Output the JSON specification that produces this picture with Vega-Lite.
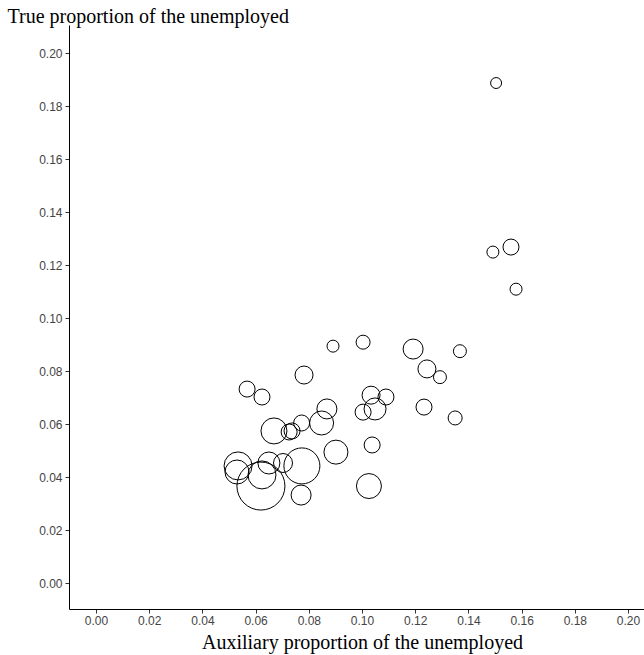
{
  "$schema": "https://vega.github.io/schema/vega-lite/v6.json",
  "autosize": "none",
  "width": 575,
  "height": 584,
  "padding": {"left": 69, "top": 25, "right": 0, "bottom": 46},
  "background": "white",
  "config": {"view": {"stroke": null}},
  "data": {"values": [
    {"aux": 0.1504, "truep": 0.1887, "w": 30},
    {"aux": 0.1492, "truep": 0.1249, "w": 36},
    {"aux": 0.1560, "truep": 0.1268, "w": 64},
    {"aux": 0.1579, "truep": 0.1109, "w": 36},
    {"aux": 0.0891, "truep": 0.0894, "w": 36},
    {"aux": 0.1004, "truep": 0.0909, "w": 49},
    {"aux": 0.1192, "truep": 0.0883, "w": 100},
    {"aux": 0.1368, "truep": 0.0875, "w": 42},
    {"aux": 0.1244, "truep": 0.0808, "w": 81},
    {"aux": 0.1293, "truep": 0.0777, "w": 42},
    {"aux": 0.0568, "truep": 0.0732, "w": 64},
    {"aux": 0.0624, "truep": 0.0702, "w": 64},
    {"aux": 0.0782, "truep": 0.0785, "w": 81},
    {"aux": 0.1034, "truep": 0.0709, "w": 81},
    {"aux": 0.1090, "truep": 0.0702, "w": 64},
    {"aux": 0.0868, "truep": 0.0657, "w": 100},
    {"aux": 0.1004, "truep": 0.0645, "w": 64},
    {"aux": 0.1049, "truep": 0.0657, "w": 121},
    {"aux": 0.1233, "truep": 0.0664, "w": 64},
    {"aux": 0.1350, "truep": 0.0623, "w": 49},
    {"aux": 0.0669, "truep": 0.0574, "w": 169},
    {"aux": 0.0726, "truep": 0.0570, "w": 64},
    {"aux": 0.0737, "truep": 0.0574, "w": 64},
    {"aux": 0.0773, "truep": 0.0604, "w": 64},
    {"aux": 0.0848, "truep": 0.0604, "w": 144},
    {"aux": 0.1038, "truep": 0.0521, "w": 64},
    {"aux": 0.0902, "truep": 0.0494, "w": 144},
    {"aux": 0.0534, "truep": 0.0442, "w": 196},
    {"aux": 0.0530, "truep": 0.0419, "w": 144},
    {"aux": 0.0650, "truep": 0.0453, "w": 121},
    {"aux": 0.0624, "truep": 0.0408, "w": 196},
    {"aux": 0.0703, "truep": 0.0453, "w": 90},
    {"aux": 0.0774, "truep": 0.0442, "w": 324},
    {"aux": 0.0620, "truep": 0.0366, "w": 576},
    {"aux": 0.0771, "truep": 0.0332, "w": 100},
    {"aux": 0.1026, "truep": 0.0366, "w": 156}
  ]},
  "mark": {"type": "point", "shape": "circle", "filled": false, "stroke": "black", "strokeWidth": 1, "opacity": 1},
  "encoding": {
    "x": {
      "field": "aux", "type": "quantitative",
      "scale": {"domain": [-0.01015, 0.2060], "nice": false, "zero": false},
      "axis": {
        "title": "Auxiliary proportion of the unemployed",
        "values": [0, 0.02, 0.04, 0.06, 0.08, 0.1, 0.12, 0.14, 0.16, 0.18, 0.2],
        "format": ".2f",
        "grid": false,
        "domainColor": "black", "domainWidth": 1,
        "tickColor": "#333333", "tickSize": 4, "tickWidth": 1,
        "labelFont": "Liberation Sans", "labelFontSize": 12, "labelColor": "#444444", "labelPadding": 2,
        "labelFlush": false, "labelOverlap": false,
        "titleFont": "Liberation Serif", "titleFontSize": 20, "titleFontWeight": "normal", "titleColor": "black",
        "titleX": 293, "titleY": 39, "titleAlign": "center", "titleBaseline": "alphabetic"
      }
    },
    "y": {
      "field": "truep", "type": "quantitative",
      "scale": {"domain": [-0.0098, 0.2106], "nice": false, "zero": false},
      "axis": {
        "title": "True proportion of the unemployed",
        "values": [0, 0.02, 0.04, 0.06, 0.08, 0.1, 0.12, 0.14, 0.16, 0.18, 0.2],
        "format": ".2f",
        "grid": false,
        "domainColor": "black", "domainWidth": 1,
        "tickColor": "#333333", "tickSize": 4, "tickWidth": 1,
        "labelFont": "Liberation Sans", "labelFontSize": 12, "labelColor": "#444444", "labelPadding": 3,
        "labelFlush": false, "labelOverlap": false,
        "titleFont": "Liberation Serif", "titleFontSize": 20, "titleFontWeight": "normal", "titleColor": "black",
        "titleAngle": 0, "titleX": -62, "titleY": -3, "titleAlign": "left", "titleBaseline": "alphabetic"
      }
    },
    "size": {
      "field": "w", "type": "quantitative",
      "scale": {"type": "linear", "domain": [0, 600], "range": [0, 2400], "zero": true},
      "legend": null
    }
  }
}
